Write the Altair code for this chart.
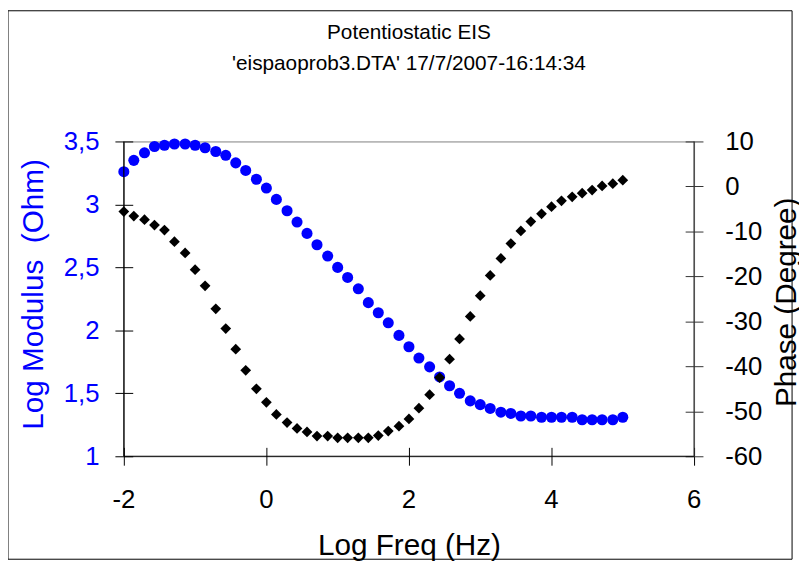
import altair as alt
import pandas as pd

# ---- data ----
log_freq = [-2.00, -1.86, -1.71, -1.57, -1.43, -1.29, -1.14, -1.00, -0.86, -0.71,
            -0.57, -0.43, -0.29, -0.14, 0.00, 0.14, 0.29, 0.43, 0.57, 0.71,
            0.86, 1.00, 1.14, 1.29, 1.43, 1.57, 1.71, 1.86, 2.00, 2.14,
            2.29, 2.43, 2.57, 2.71, 2.86, 3.00, 3.14, 3.29, 3.43, 3.57,
            3.71, 3.86, 4.00, 4.14, 4.29, 4.43, 4.57, 4.71, 4.86, 5.00]
log_modulus = [3.26, 3.35, 3.41, 3.46, 3.47, 3.48, 3.48, 3.47, 3.45, 3.42,
               3.39, 3.33, 3.27, 3.20, 3.13, 3.04, 2.95, 2.86, 2.77, 2.68,
               2.59, 2.50, 2.42, 2.33, 2.22, 2.14, 2.06, 1.96, 1.87, 1.78,
               1.71, 1.63, 1.56, 1.50, 1.44, 1.41, 1.38, 1.35, 1.34, 1.32,
               1.32, 1.31, 1.31, 1.31, 1.31, 1.29, 1.29, 1.29, 1.29, 1.31]
phase = [-5.6, -6.6, -7.4, -8.6, -9.7, -12.3, -14.8, -18.5, -22.1, -27.2,
         -31.6, -36.2, -40.9, -45.0, -48.0, -50.7, -52.5, -53.8, -54.6, -55.5,
         -55.5, -55.9, -55.9, -55.9, -55.9, -55.4, -54.4, -53.3, -51.7, -49.3,
         -46.3, -42.5, -38.4, -33.9, -28.9, -24.3, -19.8, -16.0, -12.7, -9.9,
         -7.8, -6.1, -4.5, -3.2, -2.3, -1.5, -0.8, 0.1, 0.6, 1.4]

x_ticks = [-2, 0, 2, 4, 6]
x_tick_labels = ["-2", "0", "2", "4", "6"]
mod_ticks = [1, 1.5, 2, 2.5, 3, 3.5]
phase_ticks = [10, 0, -10, -20, -30, -40, -50, -60]

title_line1 = "Potentiostatic EIS"
title_line2 = "'eispaoprob3.DTA' 17/7/2007-16:14:34"

df = pd.DataFrame({"f": log_freq, "m": log_modulus, "p": phase})
xlab_df = pd.DataFrame({"f": x_ticks, "lab": x_tick_labels})
one = pd.DataFrame({"k": [0]})

W, H = 576, 318
FONT = "Liberation Sans"
LBL = 26
TTL = 30
BLUE = "#0000FF"
TK = 9  # half length of the crossing tick marks

xscale = alt.Scale(domain=[-2, 6], nice=False, zero=False)
mscale = alt.Scale(domain=[1, 3.5], nice=False, zero=False)
pscale = alt.Scale(domain=[-60, 10], nice=False, zero=False)

common = dict(grid=False, domain=False, offset=-TK, tickSize=2 * TK,
              labelFont=FONT, labelFontSize=LBL, labelFlush=False, labelOverlap=False,
              titleFont=FONT, titleFontSize=TTL, titleFontWeight="normal",
              titleBaseline="alphabetic")

# x labels are drawn by a text layer (x_labels below) through the same x scale
x_axis = alt.Axis(values=x_ticks, title="Log Freq (Hz)", labels=False,
                  titleColor="black", titleY=99 + TK,
                  tickColor="black", **common)

left_axis = alt.Axis(values=mod_ticks, orient="left", title="Log Modulus\u00a0 (Ohm)",
                     format="~g", labelColor=BLUE, labelPadding=16, titleColor=BLUE,
                     titleAngle=270, titleX=-82 - TK, titleY=154,
                     tickColor="black", **common)

right_axis = alt.Axis(values=phase_ticks, orient="right", title="Phase (Degree)",
                      format="d", labelColor="black", labelPadding=22, titleColor="black",
                      titleAngle=270, titleX=102 + TK, titleY=162,
                      tickColor="#333333", **common)

blue_pts = alt.Chart(df).mark_point(shape="circle", filled=True, size=125,
                                    color=BLUE, opacity=1).encode(
    x=alt.X("f:Q", scale=xscale, axis=x_axis),
    y=alt.Y("m:Q", scale=mscale, axis=left_axis))

black_pts = alt.Chart(df).mark_point(shape="diamond", filled=True, size=118,
                                     color="black", opacity=1).encode(
    x=alt.X("f:Q", scale=xscale, axis=x_axis),
    y=alt.Y("p:Q", scale=pscale, axis=right_axis))

x_labels = alt.Chart(xlab_df).mark_text(font=FONT, fontSize=LBL, color="black",
                                        align="center", baseline="alphabetic").encode(
    x=alt.X("f:Q", scale=xscale, axis=x_axis),
    y=alt.value(H + 52),
    text="lab:N")

# axis lines (plot frame edges)
left_line = alt.Chart(one).mark_rule(color="black", strokeWidth=1.2).encode(
    x=alt.value(0), y=alt.value(0), y2=alt.value(H))
bottom_line = alt.Chart(one).mark_rule(color="black", strokeWidth=1.2).encode(
    x=alt.value(0), x2=alt.value(W), y=alt.value(H))
right_line = alt.Chart(one).mark_rule(color="#333333", strokeWidth=1.2).encode(
    x=alt.value(W), y=alt.value(0), y2=alt.value(H))

# outer frame of the chart
border = alt.Chart(one).mark_rect(fillOpacity=0, stroke="black", strokeWidth=1).encode(
    x=alt.value(-117), x2=alt.value(675), y=alt.value(-132), y2=alt.value(422))

# two-line chart title
t1 = alt.Chart(one).mark_text(text=title_line1, font=FONT, fontSize=21, color="black",
                              align="center", baseline="alphabetic").encode(
    x=alt.value(W / 2), y=alt.value(-103))
t2 = alt.Chart(one).mark_text(text=title_line2, font=FONT, fontSize=21, color="black",
                              align="center", baseline="alphabetic").encode(
    x=alt.value(W / 2), y=alt.value(-72))

chart = alt.layer(blue_pts, black_pts, x_labels, left_line, bottom_line, right_line,
                  border, t1, t2).resolve_scale(
    y="independent"
).properties(
    width=W, height=H,
    autosize=alt.AutoSizeParams(type="none"),
    padding={"left": 117, "top": 132, "right": 106, "bottom": 105},
).configure(
    locale={"number": {"decimal": ",", "thousands": ".", "grouping": [3],
                       "currency": ["", ""], "minus": "-"}}
).configure_axis(
    labelFont=FONT, labelFontSize=LBL, titleFont=FONT, titleFontSize=TTL
).configure_view(stroke="#808080", strokeWidth=1)

chart.save("out.html", embed_options={"renderer": "svg", "actions": False})
